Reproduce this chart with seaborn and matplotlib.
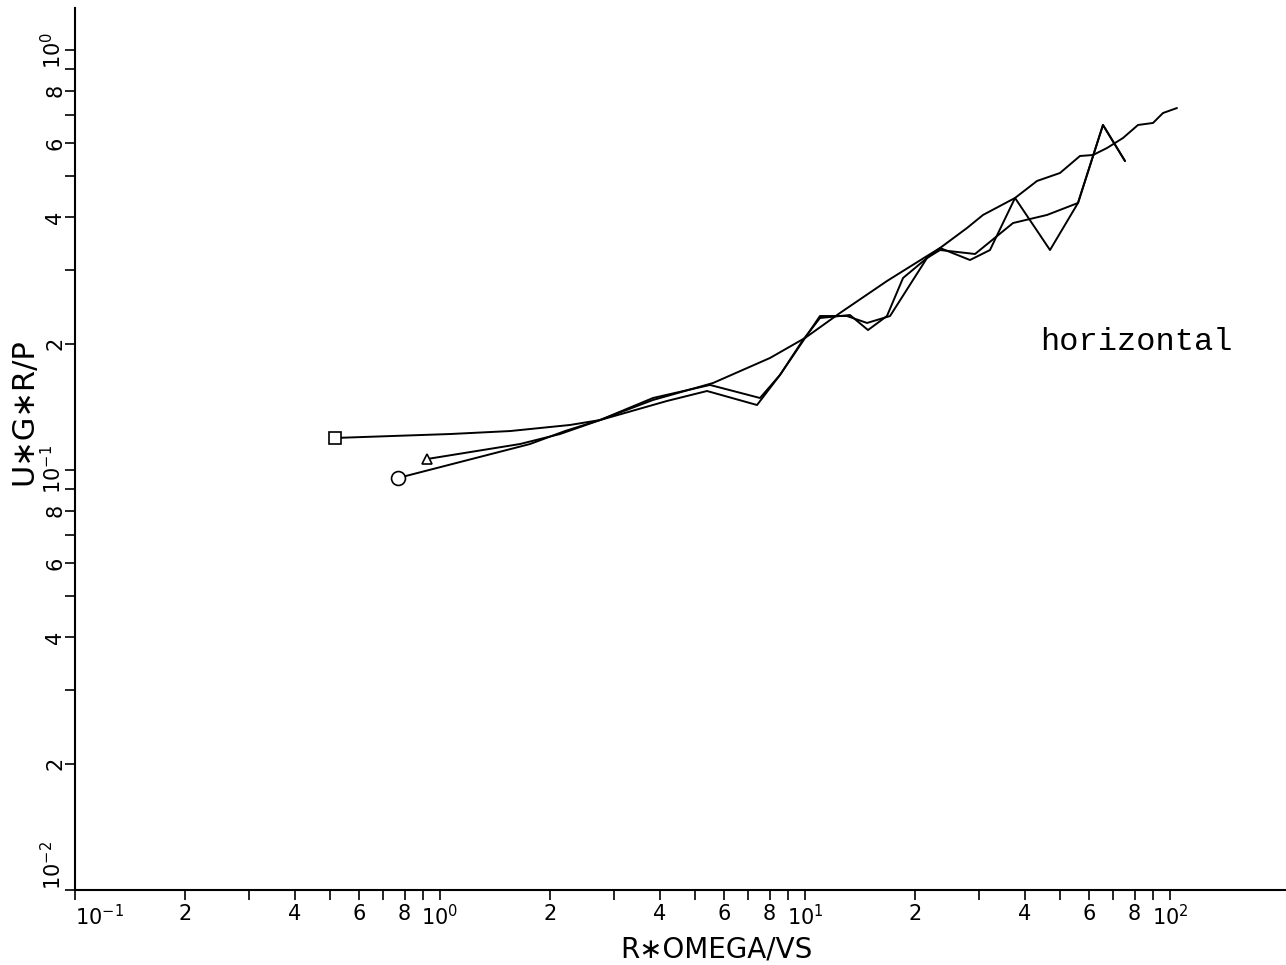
import numpy as np
import pandas as pd
import matplotlib
matplotlib.use("Agg")
import matplotlib.pyplot as plt
import matplotlib.ticker as mticker
import seaborn as sns

# Values (log-log axes)
sq_x = [0.516, 1.065, 1.555, 2.271, 2.744, 3.833, 5.597, 8.018, 10.0, 12.47,
        16.77, 21.59, 23.44, 27.79, 30.74, 37.62, 43.21, 49.95, 56.67, 61.52,
        67.20, 74.33, 81.73, 89.83, 95.68, 104.5]
sq_y = [0.1192, 0.1218, 0.1238, 0.1280, 0.1315, 0.1468, 0.1611, 0.1848, 0.2062,
        0.2365, 0.2818, 0.3232, 0.3377, 0.3769, 0.4048, 0.4443, 0.4877, 0.5095,
        0.5593, 0.5623, 0.5843, 0.6172, 0.6630, 0.6703, 0.7079, 0.7275]

tri_x = [0.921, 1.656, 2.132, 2.744, 3.833, 5.492, 7.529, 8.541, 9.874, 10.99,
         13.28, 14.88, 16.77, 18.56, 21.59, 23.44, 28.32, 32.12, 37.62, 46.91,
         55.97, 65.52, 75.28]
tri_y = [0.1062, 0.1153, 0.1218, 0.1315, 0.1484, 0.1594, 0.1484, 0.1684, 0.2040,
         0.2301, 0.2339, 0.2154, 0.2326, 0.2865, 0.3197, 0.3377, 0.3162, 0.3340,
         0.4443, 0.3340, 0.4323, 0.6630, 0.5442]

circ_x = [0.767, 1.764, 2.200, 2.744, 4.187, 5.390, 7.388, 8.541, 10.99, 13.03,
          14.79, 17.10, 21.59, 23.44, 29.23, 37.15, 46.03, 55.97, 65.52, 75.28]
circ_y = [0.0957, 0.1153, 0.1238, 0.1315, 0.1460, 0.1542, 0.1428, 0.1684, 0.2326,
          0.2326, 0.2239, 0.2326, 0.3197, 0.3340, 0.3268, 0.3873, 0.4048, 0.4323,
          0.6630, 0.5442]

series = [("square", sq_x, sq_y, "s", 9),
          ("triangle", tri_x, tri_y, "^", 6.5),
          ("circle", circ_x, circ_y, "o", 10)]

sns.set_style("ticks")
plt.rcParams['font.family'] = ['DejaVu Sans']
plt.rcParams['text.color'] = 'black'
plt.rcParams['axes.labelcolor'] = 'black'

fig = plt.figure(figsize=(12.86, 9.65), dpi=100)
ax = fig.add_axes([75 / 1286, 75 / 965, 1 - 75 / 1286, (890 - 8) / 965])

for name, xs, ys, mk, ms in series:
    df = pd.DataFrame({"x": xs, "y": ys})
    sns.lineplot(data=df, x="x", y="y", sort=False, estimator=None,
                 color="black", linewidth=1.4, ax=ax)
    ax.plot(xs[0], ys[0], marker=mk, markersize=ms, markerfacecolor="white",
            markeredgecolor="black", markeredgewidth=1.2, linestyle="none")

ax.set_xscale("log")
ax.set_yscale("log")
ax.set_xlim(0.1, 10 ** (-1 + 1211 / 365))
ax.set_ylim(0.01, 10 ** 0.1)

# ticks at every mantissa 1..9, labels only on 2, 4, 6, 8 and the decades
ticks_x = [m * 10.0 ** e for e in range(-1, 2) for m in range(1, 10)] + [100.0]
ticks_y = [m * 10.0 ** e for e in range(-2, 1) for m in range(1, 10)]


def fmt(v, pos):
    e = int(np.floor(np.log10(v) + 1e-9))
    m = int(round(v / 10.0 ** e))
    if m == 1:
        return f"$10^{{{e}}}$"
    if m in (2, 4, 6, 8):
        return str(m)
    return ""


ax.xaxis.set_major_locator(mticker.FixedLocator(ticks_x))
ax.yaxis.set_major_locator(mticker.FixedLocator(ticks_y))
ax.xaxis.set_major_formatter(mticker.FuncFormatter(fmt))
ax.yaxis.set_major_formatter(mticker.FuncFormatter(fmt))
ax.xaxis.set_minor_locator(mticker.NullLocator())
ax.yaxis.set_minor_locator(mticker.NullLocator())
ax.tick_params(axis="both", direction="out", length=7, width=1.2,
               labelsize=15, colors="black")
ax.tick_params(axis="x", pad=3)
ax.tick_params(axis="y", labelrotation=90, pad=0)
ylabs = ax.get_yticklabels()
for lab in ylabs:
    lab.set_va("center")
# the corner label sits above the origin, clear of the x labels
ylabs[0].set_va("bottom")
ax.get_xticklabels()[0].set_ha("left")
ax.get_xticklabels()[0].set_x(0.1)

sns.despine(ax=ax)
for sp in ("left", "bottom"):
    ax.spines[sp].set_linewidth(1.5)
    ax.spines[sp].set_color("black")

ax.set_xlabel("R∗OMEGA/VS", fontsize=20)
ax.set_ylabel("U∗G∗R/P", fontsize=22)
ax.xaxis.set_label_coords((716 - 75) / 1211, -46 / 882)
ax.yaxis.set_label_coords((38 - 75) / 1211, (890 - 412) / 882)

ax.text(44.0, 0.193, "horizontal", family="Liberation Mono", fontsize=23,
        color="black", ha="left", va="baseline")

fig.savefig("out.png", dpi=100)
